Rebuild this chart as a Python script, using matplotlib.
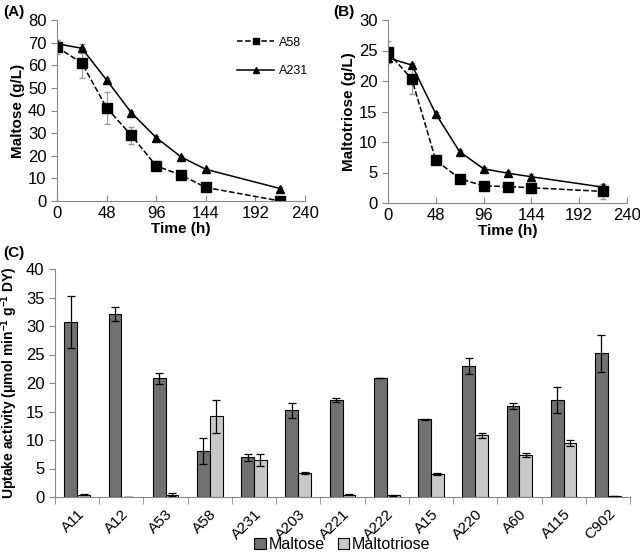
import matplotlib.pyplot as plt
import numpy as np

plt.rcParams['font.family'] = ['Liberation Sans', 'DejaVu Sans']
plt.rcParams['mathtext.fontset'] = 'custom'
plt.rcParams['mathtext.rm'] = 'Liberation Sans'
plt.rcParams['mathtext.bf'] = 'Liberation Sans:bold'

# time course data
time = [0, 24, 48, 72, 96, 120, 144, 216]
malt_a58 = [68, 61, 41.2, 29, 15.5, 11.5, 6, 0]
malt_a58_err = [3, 6.5, 7, 3.8, 2, 1.2, 0.8, 0.5]
malt_a231 = [69.5, 67.5, 53.5, 39, 28, 19.5, 14, 5.5]
malt_a231_err = [1.5, 2, 0.8, 0.8, 0.8, 0.6, 0.5, 0.5]
tri_a58 = [24.7, 20.3, 7.0, 4.0, 2.8, 2.7, 2.5, 1.9]
tri_a58_err = [1.8, 2.4, 0.5, 0.3, 0.2, 0.2, 0.2, 1.2]
tri_a231 = [23.8, 22.6, 14.6, 8.4, 5.6, 4.9, 4.3, 2.6]
tri_a231_err = [0.4, 0.3, 0.3, 0.3, 0.3, 0.3, 0.5, 0.5]

# uptake data
strains = ['A11', 'A12', 'A53', 'A58', 'A231', 'A203', 'A221', 'A222',
           'A15', 'A220', 'A60', 'A115', 'C902']
maltose = [30.7, 32.1, 20.8, 8.1, 7.0, 15.2, 17.0, 20.9, 13.6, 22.9, 16.0, 17.0, 25.2]
maltose_err = [4.5, 1.3, 1.0, 2.3, 0.6, 1.3, 0.4, 0.05, 0.05, 1.4, 0.5, 2.3, 3.2]
maltotriose = [0.4, 0.0, 0.4, 14.2, 6.5, 4.2, 0.4, 0.3, 4.0, 10.8, 7.4, 9.5, 0.2]
maltotriose_err = [0.05, 0.0, 0.3, 2.9, 1.1, 0.1, 0.05, 0.05, 0.2, 0.4, 0.3, 0.5, 0.05]

W, H = 640, 554
fig = plt.figure(figsize=(6.4, 5.54), dpi=100)


def px_axes(l, t, r, b):
    return fig.add_axes([l / W, (H - b) / H, (r - l) / W, (b - t) / H])


def style(ax):
    for s in ['top', 'right']:
        ax.spines[s].set_visible(False)
    for s in ['left', 'bottom']:
        ax.spines[s].set_color('#888888')
    ax.tick_params(labelsize=12, color='#888888')


def line_panel(ax, y58, e58, y231, e231, ymax, ystep, ylabel):
    ax.errorbar(time, y58, yerr=e58, fmt='none', ecolor='#999999', elinewidth=0.8, capsize=2)
    ax.errorbar(time, y231, yerr=e231, fmt='none', ecolor='#999999', elinewidth=0.8, capsize=2)
    ax.plot(time, y58, color='black', ls='--', lw=1.1, marker='s', ms=6.5, label='A58')
    ax.plot(time, y231, color='black', ls='-', lw=1.1, marker='^', ms=6, label='A231')
    ax.set_xlim(0, 240)
    ax.set_ylim(0, ymax)
    ax.set_xticks(np.arange(0, 241, 48))
    ax.set_yticks(np.arange(0, ymax + 1, ystep))
    ax.set_xlabel('Time (h)', fontsize=11, fontweight='bold', labelpad=1)
    ax.set_ylabel(ylabel, fontsize=11, fontweight='bold', labelpad=2)
    ax.tick_params(axis='x', direction='in', length=4)
    ax.tick_params(axis='y', direction='out', length=4)
    style(ax)


axA = px_axes(57, 20, 305, 201)
line_panel(axA, malt_a58, malt_a58_err, malt_a231, malt_a231_err, 80, 10, 'Maltose (g/L)')
axA.legend(loc='upper left', bbox_to_anchor=(0.68, 0.97), frameon=False,
           fontsize=9, handlelength=3, labelspacing=1.3, markerscale=0.75,
           handletextpad=0.4)

axB = px_axes(388, 20, 627, 203)
line_panel(axB, tri_a58, tri_a58_err, tri_a231, tri_a231_err, 30, 5, 'Maltotriose (g/L)')

fig.text(3 / W, 1 - 12 / H, '(A)', fontsize=11, fontweight='bold', va='center')
fig.text(333 / W, 1 - 12 / H, '(B)', fontsize=11, fontweight='bold', va='center')
fig.text(3 / W, 1 - 253 / H, '(C)', fontsize=11, fontweight='bold', va='center')

# bar panel
axC = px_axes(55, 269, 630, 497)
x = np.arange(len(strains))
bw = 0.29
axC.bar(x - bw / 2, maltose, bw, yerr=maltose_err, color='#717171', edgecolor='black',
        lw=0.8, capsize=3, error_kw=dict(elinewidth=0.9, capthick=0.9), label='Maltose')
axC.bar(x + bw / 2, maltotriose, bw, yerr=maltotriose_err, color='#c8c8c8', edgecolor='black',
        lw=0.8, capsize=3, error_kw=dict(elinewidth=0.9, capthick=0.9), label='Maltotriose')
axC.set_xlim(-0.5, len(strains) - 0.5)
axC.set_ylim(0, 40)
axC.set_yticks(np.arange(0, 41, 5))
axC.set_xticks(x)
axC.set_xticklabels(strains, rotation=45, ha='right', rotation_mode='anchor')
axC.set_xticks(np.arange(-0.5, len(strains)), minor=True)
axC.tick_params(axis='y', direction='out', length=4)
axC.set_ylabel(r'Uptake activity (μmol min$^{\mathbf{-1}}$ g$^{\mathbf{-1}}$ DY)',
               fontsize=10, fontweight='bold', labelpad=4)
style(axC)
axC.tick_params(axis='x', which='major', length=0, pad=7, labelsize=11)
axC.tick_params(axis='x', which='minor', direction='out', length=5, color='#888888')
axC.legend(loc='lower center', bbox_to_anchor=(0.5, -0.278), ncol=2, frameon=False,
           fontsize=11.5, handlelength=0.7, handleheight=0.7, handletextpad=0.2,
           columnspacing=0.8, borderpad=0)

fig.savefig('out.png', dpi=100)
